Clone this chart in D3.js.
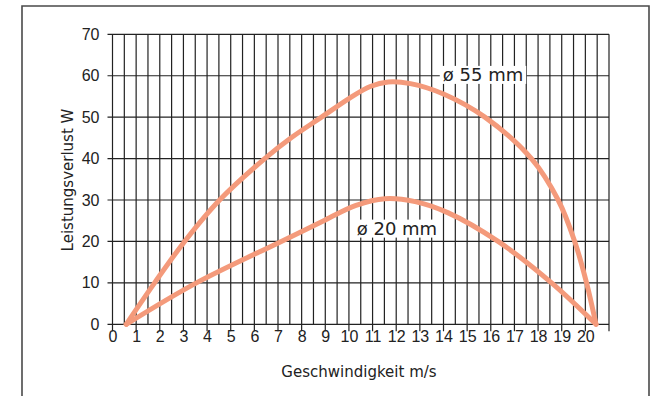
<!DOCTYPE html>
<html><head><meta charset="utf-8">
<script src="https://cdn.jsdelivr.net/npm/d3@7"></script>
<style>
html,body{margin:0;padding:0;background:#fff;}
svg{display:block;}
</style></head>
<body>
<svg id="chart" width="665" height="396"></svg>
<script>
// ---- data ----
const xTicks = d3.range(0, 21, 1);          // labelled speed ticks 0..20
const yTicks = [0, 10, 20, 30, 40, 50, 60, 70];
const xTitle = "Geschwindigkeit m/s";
const yTitle = "Leistungsverlust W";
const seriesNames = ["ø 55 mm", "ø 20 mm"];
const speed55 = [0.58, 1.78, 3.05, 4.53, 6.44, 7.6,  8.84, 10.0, 10.9, 11.66, 12.6, 14.0, 15.75, 17.72, 18.85, 19.55, 20.05, 20.45];
const loss55  = [0,    10,   20,   30,   40,   45.2, 50,   54.5, 57.4, 58.5,  58.1, 55.6, 50,    40,    30,    20,    10,    0];
const speed20 = [0.58, 3.55, 7.14, 9.0,  10.3, 11.52, 12.8, 14.2, 16.31, 18.57, 20.45];
const loss20  = [0,    10,   20,   25.2, 28.7, 30.3,  29.6, 26.9, 20,    10,    0];
const labelSpeed = [15.67, 12.03];
const labelLoss  = [60.2, 23.1];

// ---- layout ----
const svg = d3.select("#chart");
const W = 665, H = 396;
const x = d3.scaleLinear().domain([0, 21]).range([112.5, 609]);
const y = d3.scaleLinear().domain([0, 70]).range([324.3, 34.3]);
const ink = "#222";
const curveColor = "#f49a7b";

// frame
svg.append("path")
  .attr("d", `M22,${H+2} V6 H649 V${H+2}`)
  .attr("fill", "none").attr("stroke", "#4a4a4a").attr("stroke-width", 1.6);

const g = svg.append("g");

// vertical grid every 0.5
const vGrid = d3.range(0, 21.01, 0.5);
g.selectAll("line.vg").data(vGrid).join("line")
  .attr("x1", d => x(d)).attr("x2", d => x(d))
  .attr("y1", y(70)).attr("y2", d => (Math.abs(d - Math.round(d)) < 1e-6) ? y(0) + 7 : y(0))
  .attr("stroke", ink).attr("stroke-width", 1.2);

// horizontal grid every 10
g.selectAll("line.hg").data(yTicks).join("line")
  .attr("x1", x(0) - 5).attr("x2", x(21))
  .attr("y1", d => y(d)).attr("y2", d => y(d))
  .attr("stroke", ink).attr("stroke-width", 1.2);

// axes tick labels via d3 axes
const yAxis = d3.axisLeft(y).tickValues(yTicks).tickSize(0).tickPadding(13);
const yA = svg.append("g").attr("transform", `translate(${x(0)},0)`).call(yAxis);
yA.select(".domain").remove();
yA.selectAll("text").attr("font-family", "Liberation Sans, Arial, sans-serif")
  .attr("font-size", 16).attr("fill", ink);

const xAxis = d3.axisBottom(x).tickValues(xTicks).tickSize(0).tickPadding(6);
const xA = svg.append("g").attr("transform", `translate(0,${y(0)})`).call(xAxis);
xA.select(".domain").remove();
xA.selectAll("text").attr("font-family", "Liberation Sans, Arial, sans-serif")
  .attr("font-size", 16).attr("fill", ink);

// axis titles
svg.append("text").text(xTitle)
  .attr("x", 359).attr("y", 377).attr("text-anchor", "middle")
  .attr("font-family", "DejaVu Sans, sans-serif").attr("font-size", 15).attr("fill", ink);
svg.append("text").text(yTitle)
  .attr("transform", "translate(73,180) rotate(-90)").attr("text-anchor", "middle")
  .attr("font-family", "DejaVu Sans, sans-serif").attr("font-size", 15).attr("fill", ink);

// curves
const line = d3.line().x(d => x(d[0])).y(d => y(d[1])).curve(d3.curveCatmullRom.alpha(0.5));
const series = [d3.zip(speed55, loss55), d3.zip(speed20, loss20)];
svg.selectAll("path.curve").data(series).join("path")
  .attr("class", "curve")
  .attr("d", line)
  .attr("fill", "none").attr("stroke", curveColor).attr("stroke-width", 5)
  .attr("stroke-linecap", "round").attr("stroke-linejoin", "round");

// curve labels with white background
seriesNames.forEach((name, i) => {
  const lg = svg.append("g").attr("transform", `translate(${x(labelSpeed[i])},${y(labelLoss[i])})`);
  const t = lg.append("text").text(name)
    .attr("text-anchor", "middle").attr("dy", "0.36em")
    .attr("font-family", "DejaVu Sans, sans-serif").attr("font-size", 18).attr("fill", ink);
  const bb = t.node().getBBox();
  lg.insert("rect", "text")
    .attr("x", bb.x - 3).attr("y", -9).attr("width", bb.width + 6).attr("height", 18)
    .attr("fill", "#fff");
});
</script>
</body></html>
